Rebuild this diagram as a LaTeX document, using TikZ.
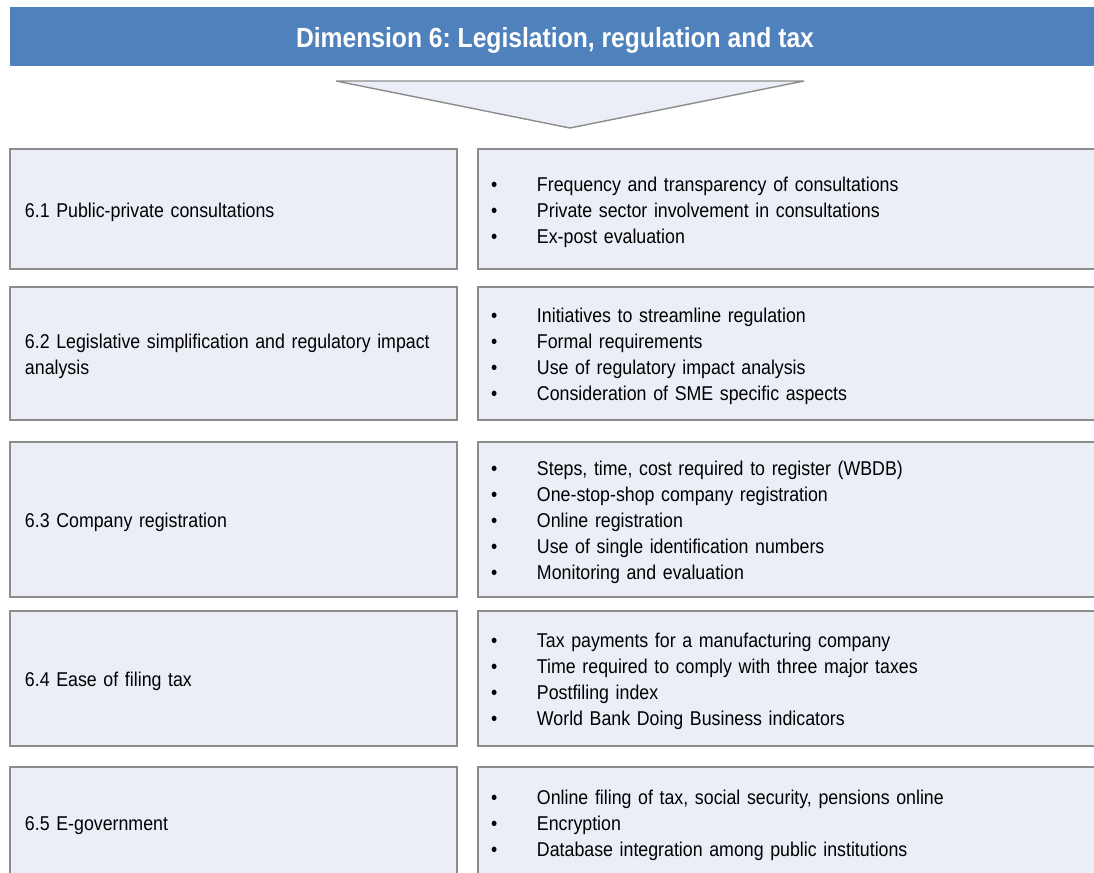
\documentclass[tikz,border=0pt]{standalone}
\usepackage{fontspec}
\setmainfont{Liberation Sans}[FakeStretch=0.89]
\usetikzlibrary{positioning}

\newlength\px \setlength\px{0.025cm}
\definecolor{headblue}{RGB}{79,129,189}
\definecolor{boxfill}{RGB}{235,238,246}
\definecolor{boxline}{RGB}{140,140,140}
\newcommand{\itm}[1]{\makebox[46\px][l]{\textbullet}#1}
% lines of a box, set 3px lower than centred
\newcommand{\lines}[1]{\raisebox{-3\px}[\height][\depth]{\begin{tabular}{@{}l@{}}#1\end{tabular}}}
\frenchspacing

\begin{document}
\begin{tikzpicture}[
  x=1\px, y=-1\px,
  header/.style={fill=headblue,draw=none,minimum width=1090\px,minimum height=59\px,
                 inner sep=0pt,text height=23\px,text depth=0pt,text=white,
                 font=\fontsize{19.7}{24}\selectfont\bfseries},
  tri/.style={fill=boxfill,draw=boxline,line width=1pt,line join=miter},
  leftbox/.style={fill=boxfill,draw=boxline,line width=1pt,minimum width=447\px,
                  inner xsep=15\px,text width=417\px,align=left,
                  font=\fontsize{14.2}{18.5}\selectfont},
  rightbox/.style={fill=boxfill,draw=boxline,line width=1pt,minimum width=622\px,
                   inner xsep=13\px,text width=596\px,align=left,
                   font=\fontsize{14.2}{18.5}\selectfont}]

\useasboundingbox (0,0) rectangle (1094,873);
\clip (0,0) rectangle (1094,873);

% ============ Header and arrow ============
\node[header] (head) at (555,36.5) {Dimension 6: Legislation, regulation and tax};
\draw[tri] (336,81) -- (804,81) -- (570,128) -- cycle;

% ============ Row 6.1 ============
\node[leftbox,minimum height=120\px] (l1) at (233.5,209) {\lines{6.1 Public-private consultations}};
\node[rightbox,minimum height=120\px] (r1) at (789,209) {\lines{%
  \itm{Frequency and transparency of consultations}\\
  \itm{Private sector involvement in consultations}\\
  \itm{Ex-post evaluation}}};

% ============ Row 6.2 ============
\node[leftbox,minimum height=133\px] (l2) at (233.5,353.5)
  {\lines{6.2 Legislative simplification and regulatory impact\\analysis}};
\node[rightbox,minimum height=133\px] (r2) at (789,353.5) {\lines{%
  \itm{Initiatives to streamline regulation}\\
  \itm{Formal requirements}\\
  \itm{Use of regulatory impact analysis}\\
  \itm{Consideration of SME specific aspects}}};

% ============ Row 6.3 ============
\node[leftbox,minimum height=155\px] (l3) at (233.5,519.5) {\lines{6.3 Company registration}};
\node[rightbox,minimum height=155\px] (r3) at (789,519.5) {\lines{%
  \itm{Steps, time, cost required to register (WBDB)}\\
  \itm{One-stop-shop company registration}\\
  \itm{Online registration}\\
  \itm{Use of single identification numbers}\\
  \itm{Monitoring and evaluation}}};

% ============ Row 6.4 ============
\node[leftbox,minimum height=135\px] (l4) at (233.5,678.5) {\lines{6.4 Ease of filing tax}};
\node[rightbox,minimum height=135\px] (r4) at (789,678.5) {\lines{%
  \itm{Tax payments for a manufacturing company}\\
  \itm{Time required to comply with three major taxes}\\
  \itm{Postfiling index}\\
  \itm{World Bank Doing Business indicators}}};

% ============ Row 6.5 ============
\node[leftbox,minimum height=111\px] (l5) at (233.5,822.5) {\lines{6.5 E-government}};
\node[rightbox,minimum height=111\px] (r5) at (789,822.5) {\lines{%
  \itm{Online filing of tax, social security, pensions online}\\
  \itm{Encryption}\\
  \itm{Database integration among public institutions}}};

\end{tikzpicture}
\end{document}
